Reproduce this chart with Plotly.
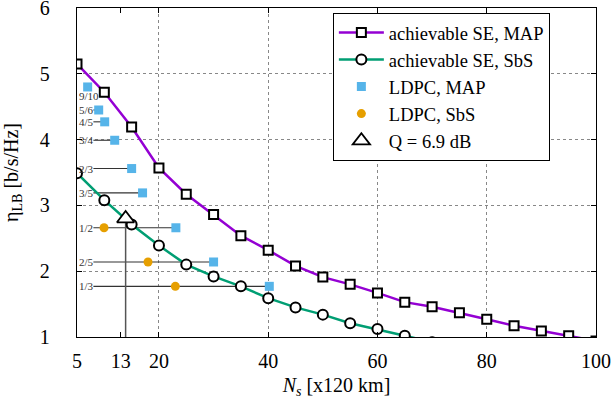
import plotly.graph_objects as go

# ---- data ----
ns_map = [5, 10, 15, 20, 25, 30, 35, 40, 45, 50, 55, 60, 65, 70, 75, 80, 85, 90, 95, 100]
se_map = [5.15, 4.72, 4.19, 3.57, 3.17, 2.86, 2.54, 2.32, 2.08, 1.91, 1.80, 1.67, 1.53,
          1.46, 1.37, 1.27, 1.17, 1.09, 1.02, 0.94]

ns_sbs = [5, 10, 15, 20, 25, 30, 35, 40, 45, 50, 55, 60, 65, 70]
se_sbs = [3.49, 3.08, 2.71, 2.39, 2.10, 1.92, 1.77, 1.59, 1.45, 1.34, 1.21, 1.12, 1.02, 0.92]

rates = ["9/10", "5/6", "4/5", "3/4", "2/3", "3/5", "1/2", "2/5", "1/3"]
ldpc_map_ns = [6.95, 8.97, 10.07, 11.9, 15.0, 17.0, 23.1, 30.0, 40.2]
ldpc_map_se = [4.80, 4.45, 4.27, 3.99, 3.56, 3.19, 2.66, 2.14, 1.77]

ldpc_sbs_ns = [9.95, 18.0, 23.0]
ldpc_sbs_se = [2.66, 2.14, 1.77]

q_ns = [13.9]
q_se = [2.80]

guide_start_ns = 8.0
x_tickvals = [5, 13, 20, 40, 60, 80, 100]
x_gridvals = [20, 40, 60, 80]
y_tickvals = [1, 2, 3, 4, 5, 6]

FONT = "Liberation Serif"
PURPLE = "#9400D3"
GREEN = "#009E73"
BLUE = "#56B4E9"
ORANGE = "#E69F00"

fig = go.Figure()

# guide lines from rate labels to LDPC MAP points
for n, s in zip(ldpc_map_ns, ldpc_map_se):
    if n > guide_start_ns:
        fig.add_trace(go.Scatter(x=[guide_start_ns, n], y=[s, s], mode="lines",
                                 line=dict(color="#333333", width=1.1),
                                 showlegend=False, hoverinfo="skip"))

# vertical line from Q point down to the axis
fig.add_trace(go.Scatter(x=[q_ns[0], q_ns[0]], y=[1, q_se[0]], mode="lines",
                         line=dict(color="#555555", width=1.5),
                         showlegend=False, hoverinfo="skip"))

fig.add_trace(go.Scatter(x=ns_map, y=se_map, mode="lines+markers",
                         name="achievable SE, MAP",
                         line=dict(color=PURPLE, width=2.5),
                         marker=dict(symbol="square", size=9, color="white",
                                     line=dict(color="black", width=2))))
fig.add_trace(go.Scatter(x=ns_sbs, y=se_sbs, mode="lines+markers",
                         name="achievable SE, SbS",
                         line=dict(color=GREEN, width=2.5),
                         marker=dict(symbol="circle", size=10, color="white",
                                     line=dict(color="black", width=2))))
fig.add_trace(go.Scatter(x=ldpc_map_ns, y=ldpc_map_se, mode="markers",
                         name="LDPC, MAP",
                         marker=dict(symbol="square", size=9, color=BLUE)))
fig.add_trace(go.Scatter(x=ldpc_sbs_ns, y=ldpc_sbs_se, mode="markers",
                         name="LDPC, SbS",
                         marker=dict(symbol="circle", size=9, color=ORANGE)))
fig.add_trace(go.Scatter(x=q_ns, y=q_se, mode="markers",
                         name="Q = 6.9 dB",
                         marker=dict(symbol="triangle-up", size=15, color="white",
                                     line=dict(color="black", width=1.8))))

# rate labels
for i, (r, s) in enumerate(zip(rates, ldpc_map_se)):
    fig.add_annotation(x=5.05, y=s, text=r, showarrow=False, xanchor="left",
                       yanchor="middle", yshift=-9 if i == 0 else 0,
                       font=dict(family=FONT, size=11, color="#333333"))

axis_common = dict(showline=True, linecolor="black", linewidth=1.3, mirror="ticks",
                   ticks="inside", ticklen=5, tickcolor="black", zeroline=False,
                   automargin=False, ticklabeloverflow="allow",
                   tickfont=dict(family=FONT, size=20, color="black"))

fig.update_xaxes(range=[5, 100], tickvals=x_tickvals, showgrid=False,
                 minor=dict(tickvals=x_gridvals, showgrid=True, gridcolor="#888888",
                            griddash="dot", gridwidth=1, ticks="inside", ticklen=5,
                            tickcolor="black"),
                 ticklabelstandoff=6,
                 title=dict(text="<i>N<sub>s</sub></i> [x120 km]",
                            font=dict(family=FONT, size=20, color="black"), standoff=6),
                 **axis_common)
fig.update_yaxes(range=[1, 6], tickvals=y_tickvals, showgrid=True, gridcolor="#888888",
                 griddash="dot", gridwidth=1,
                 ticklabelstandoff=22,
                 title=dict(text="η<sub>LB</sub> [b/s/Hz]",
                            font=dict(family=FONT, size=20, color="black"), standoff=20),
                 **axis_common)

fig.update_layout(
    width=615, height=409, autosize=False,
    margin=dict(l=77, r=19, t=8, b=72),
    plot_bgcolor="white", paper_bgcolor="white",
    font=dict(family=FONT, size=20, color="black"),
    legend=dict(x=0.493, y=0.985, xanchor="left", yanchor="top",
                bgcolor="white", bordercolor="black", borderwidth=1, itemwidth=45,
                font=dict(family=FONT, size=18.5, color="black")),
)

fig.write_html("out.html", config={"displayModeBar": False},
               post_script="document.body.style.margin='0';document.body.style.overflow='hidden';")
